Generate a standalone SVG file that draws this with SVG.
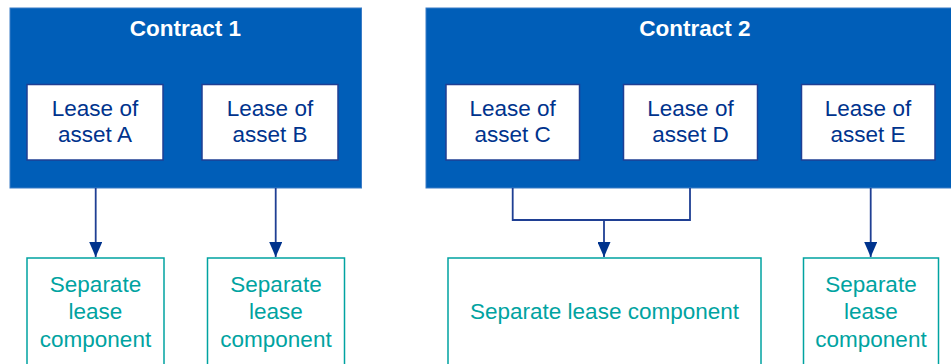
<svg xmlns="http://www.w3.org/2000/svg" width="951" height="364" viewBox="0 0 951 364">
<style>
.contract{fill:#005EB8;stroke:#3B7CC6;stroke-width:1}
.lease{fill:#FFFFFF;stroke:#1F3F93;stroke-width:1.5}
.sep{fill:#FFFFFF;stroke:#00A3A1;stroke-width:1.5}
.title{font-family:"Liberation Sans",Arial,sans-serif;font-weight:bold;font-size:22.5px;fill:#FFFFFF;text-anchor:middle}
.lt{font-family:"Liberation Sans",Arial,sans-serif;font-size:22.5px;fill:#00338D;text-anchor:middle}
.st{font-family:"Liberation Sans",Arial,sans-serif;font-size:22.5px;fill:#00A3A1;text-anchor:middle}
.conn{fill:none;stroke:#1F3F93;stroke-width:1.8}
</style>
<defs>
<marker id="arr" viewBox="0 0 15 13" refX="15" refY="6.5" markerWidth="15" markerHeight="13" markerUnits="userSpaceOnUse" orient="auto">
<path d="M0,0 L15,6.5 L0,13 Z" fill="#00338D"/>
</marker>
</defs>
<rect x="0" y="0" width="951" height="364" fill="#FFFFFF"/>
<g id="contract1">
<rect class="contract" x="10" y="8" width="351.5" height="180"/>
<text class="title" x="185.5" y="36">Contract 1</text>
</g>
<g id="contract2">
<rect class="contract" x="426" y="8" width="540" height="180"/>
<text class="title" x="695" y="36">Contract 2</text>
</g>
<g id="leaseA">
<rect class="lease" x="27" y="84.5" width="136" height="75.5"/>
<text class="lt" x="95" y="116">Lease of</text>
<text class="lt" x="95" y="142">asset A</text>
</g>
<g id="leaseB">
<rect class="lease" x="202" y="84.5" width="136" height="75.5"/>
<text class="lt" x="270" y="116">Lease of</text>
<text class="lt" x="270" y="142">asset B</text>
</g>
<g id="leaseC">
<rect class="lease" x="446" y="84.5" width="133.5" height="75.5"/>
<text class="lt" x="512.7" y="116">Lease of</text>
<text class="lt" x="512.7" y="142">asset C</text>
</g>
<g id="leaseD">
<rect class="lease" x="623.5" y="84.5" width="134" height="75.5"/>
<text class="lt" x="690.5" y="116">Lease of</text>
<text class="lt" x="690.5" y="142">asset D</text>
</g>
<g id="leaseE">
<rect class="lease" x="801.5" y="84.5" width="133.5" height="75.5"/>
<text class="lt" x="868" y="116">Lease of</text>
<text class="lt" x="868" y="142">asset E</text>
</g>
<g id="sep1">
<rect class="sep" x="27" y="258" width="137" height="120"/>
<text class="st" x="95.5" y="292">Separate</text>
<text class="st" x="95.5" y="319">lease</text>
<text class="st" x="95.5" y="347">component</text>
</g>
<g id="sep2">
<rect class="sep" x="207.5" y="258" width="137" height="120"/>
<text class="st" x="276" y="292">Separate</text>
<text class="st" x="276" y="319">lease</text>
<text class="st" x="276" y="347">component</text>
</g>
<g id="sep3">
<rect class="sep" x="448" y="258" width="313" height="120"/>
<text class="st" x="604.5" y="319">Separate lease component</text>
</g>
<g id="sep4">
<rect class="sep" x="803.5" y="258" width="135" height="120"/>
<text class="st" x="871" y="292">Separate</text>
<text class="st" x="871" y="319">lease</text>
<text class="st" x="871" y="347">component</text>
</g>
<g id="connectors">
<path class="conn" d="M95.7,188 V257" marker-end="url(#arr)"/>
<path class="conn" d="M275.7,188 V257" marker-end="url(#arr)"/>
<path class="conn" d="M512.7,188 V220 H690 V188"/>
<path class="conn" d="M604,220 V257" marker-end="url(#arr)"/>
<path class="conn" d="M870.7,188 V257" marker-end="url(#arr)"/>
</g>
</svg>
